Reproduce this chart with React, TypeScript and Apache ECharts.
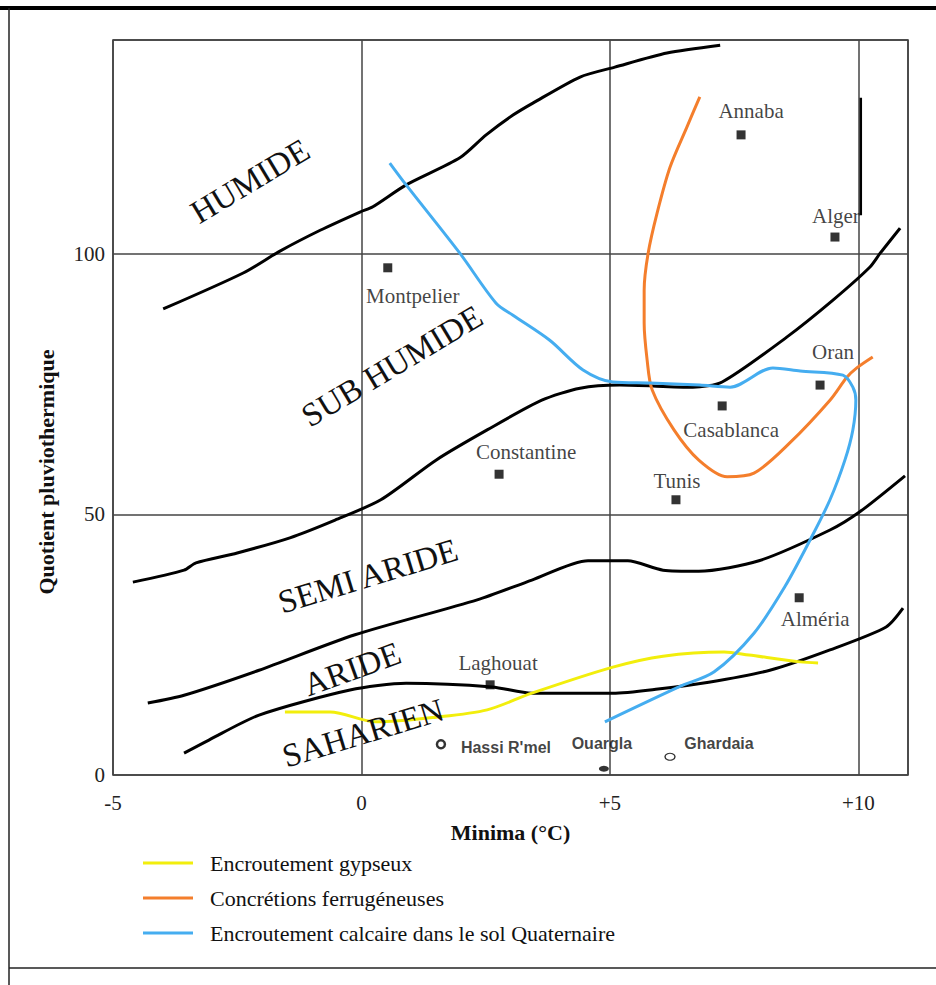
import React, { useEffect, useRef } from 'react';
import * as echarts from 'echarts';

// Bioclimatic limits (Minima °C, Quotient pluviothermique)
const limitHumide: number[][] = [
  [-3.99, 89.4], [-2.38, 96.3], [-1.64, 100.5], [-0.83, 104.5], [-0.03, 108.0], [0.23, 109.0],
  [0.9, 113.2], [1.98, 118.4], [2.51, 122.8], [3.05, 126.6], [3.45, 128.9], [4.4, 133.9],
  [5.1, 135.8], [6.15, 138.5], [7.22, 140.0],
];
const limitSubHumide: number[][] = [
  [-4.6, 37.0], [-3.57, 39.3], [-3.33, 40.7], [-2.5, 42.6], [-1.44, 45.5], [-0.53, 48.9],
  [0.39, 52.8], [1.5, 60.4], [2.53, 66.2], [3.63, 71.9], [4.4, 74.2], [5.2, 74.8],
  [6.67, 74.4], [7.26, 75.4], [8.56, 84.0], [9.49, 91.1], [10.23, 97.4], [10.44, 100.1], [10.84, 104.9],
];
const limitSemiAride: number[][] = [
  [-4.3, 13.8], [-3.57, 15.3], [-2.06, 20.1], [-0.13, 26.9], [2.33, 33.6], [3.43, 37.4],
  [4.56, 41.1], [5.36, 41.1], [6.07, 39.3], [6.79, 39.1], [8.0, 41.1], [9.43, 47.0],
  [10.03, 50.5], [10.94, 57.4],
];
const limitAride: number[][] = [
  [-3.57, 4.2], [-3.07, 6.7], [-2.06, 11.5], [-0.23, 16.3], [0.9, 17.6], [2.63, 16.9],
  [3.43, 15.7], [5.06, 15.7], [5.97, 16.5], [6.99, 17.8], [8.22, 20.1], [9.43, 24.0],
  [10.56, 28.4], [10.9, 32.0],
];
const strayMark: number[][] = [[10.05, 129.9], [10.05, 107.4]];

// Crusts / concretions
const gypseux: number[][] = [
  [-1.54, 12.1], [-0.63, 12.1], [0.29, 10.2], [1.5, 11.1], [2.53, 12.5], [3.43, 15.7],
  [5.06, 20.7], [6.07, 22.8], [7.3, 23.6], [7.8, 23.0], [8.83, 21.7], [9.19, 21.5],
];
const ferrugineuses: number[][] = [
  [6.81, 130.1], [6.55, 124.3], [6.21, 116.6], [5.95, 107.8], [5.77, 100.1], [5.69, 93.0],
  [5.69, 86.7], [5.75, 79.6], [5.85, 73.9], [6.29, 66.2], [6.79, 60.4], [7.36, 57.2],
  [7.9, 57.9], [8.62, 63.7], [9.43, 71.9], [9.77, 76.3], [9.97, 78.1], [10.29, 80.2],
];
const calcaire: number[][] = [
  [0.57, 117.4], [0.9, 113.2], [1.98, 100.1], [2.71, 90.5], [3.05, 88.2], [3.79, 83.4],
  [4.46, 77.7], [5.06, 75.4], [5.81, 75.2], [6.81, 74.8], [7.42, 74.4], [8.28, 78.1],
  [8.83, 77.5], [9.69, 76.7], [9.89, 74.4], [9.95, 71.9], [9.89, 66.2], [9.73, 60.4],
  [9.43, 52.8], [9.03, 45.1], [8.52, 36.1], [7.9, 27.2], [7.1, 19.8], [6.39, 16.9], [4.9, 10.2],
];

// Stations
const cityNames = ['Annaba', 'Alger', 'Montpelier', 'Oran', 'Casablanca', 'Constantine', 'Tunis', 'Alméria', 'Laghouat', "Hassi R'mel", 'Ouargla', 'Ghardaia'];
const cityX = [7.64, 9.53, 0.53, 9.23, 7.26, 2.77, 6.33, 8.81, 2.59, 1.6, 4.88, 6.21];
const cityY = [122.8, 103.2, 97.3, 74.8, 70.8, 57.7, 52.8, 34.0, 17.3, 5.9, 1.2, 3.5];

const xTicks = ['-5', '0', '+5', '+10'];
const yTicks = ['0', '50', '100'];

const zoneNames = ['HUMIDE', 'SUB HUMIDE', 'SEMI ARIDE', 'ARIDE', 'SAHARIEN'];

const legendNames = ['Encroutement gypseux', 'Concrétions ferrugéneuses', 'Encroutement calcaire dans le sol Quaternaire'];

const SERIF = '"Liberation Serif", "Times New Roman", serif';
const SANS = '"Liberation Sans", Arial, sans-serif';

// label offsets (px) relative to marker centre
const labelOffsets: Record<string, number[]> = {
  Annaba: [10, -24], Alger: [1, -21], Montpelier: [25, 28], Oran: [13, -33], Casablanca: [9, 24],
  Constantine: [27, -22], Tunis: [1, -19], 'Alméria': [16, 21], Laghouat: [8, -22],
  "Hassi R'mel": [65, 3], Ouargla: [-2, -25], Ghardaia: [49, -13],
};
const saharanStations = ["Hassi R'mel", 'Ouargla', 'Ghardaia'];

const zoneLayout = [
  { x: 250, y: 181, rot: 31 },
  { x: 392, y: 366, rot: 31 },
  { x: 368, y: 576, rot: 17 },
  { x: 352, y: 669, rot: 20 },
  { x: 363, y: 733, rot: 17 },
];

function markerStyle(name: string) {
  if (name === "Hassi R'mel") return { symbol: 'circle', symbolSize: 8, itemStyle: { color: '#fff', borderColor: '#000', borderWidth: 2.5 } };
  if (name === 'Ouargla') return { symbol: 'circle', symbolSize: [10, 6], itemStyle: { color: '#000' } };
  if (name === 'Ghardaia') return { symbol: 'circle', symbolSize: [10, 7], itemStyle: { color: '#fff', borderColor: '#000', borderWidth: 1.2 } };
  return { symbol: 'rect', symbolSize: 9, itemStyle: { color: '#000' } };
}

function buildOption(): any {
  const blackLine = (data: number[][], width = 3) => ({
    type: 'line', data, symbol: 'none', smooth: 0.25, silent: true, z: 2,
    lineStyle: { color: '#000', width }, itemStyle: { color: '#000' },
  });
  const colorLine = (name: string, data: number[][], color: string) => ({
    type: 'line', name, data, symbol: 'none', smooth: 0.3, silent: true, z: 3,
    lineStyle: { color, width: 3 }, itemStyle: { color },
  });

  const cityData = cityNames.map((n, i) => {
    const sahara = saharanStations.includes(n);
    return {
      name: n,
      value: [cityX[i], cityY[i]],
      ...markerStyle(n),
      label: {
        show: true, position: 'inside', formatter: n, offset: labelOffsets[n],
        fontFamily: sahara ? SANS : SERIF, fontWeight: sahara ? 'bold' : 'normal',
        fontSize: sahara ? 16 : 21, color: '#111',
      },
    };
  });

  const graphics: any[] = [
    { type: 'line', shape: { x1: 0, y1: 8, x2: 936, y2: 8 }, style: { stroke: '#000', lineWidth: 4 }, silent: true },
    { type: 'line', shape: { x1: 9, y1: 8, x2: 9, y2: 985 }, style: { stroke: '#222', lineWidth: 1.5 }, silent: true },
    { type: 'line', shape: { x1: 9, y1: 968, x2: 936, y2: 968 }, style: { stroke: '#222', lineWidth: 1.5 }, silent: true },
    {
      type: 'text', x: 46, y: 472, rotation: Math.PI / 2, silent: true,
      style: { text: 'Quotient pluviothermique', fontFamily: SERIF, fontWeight: 'bold', fontSize: 22, fill: '#111', align: 'center', verticalAlign: 'middle' },
    },
  ];
  zoneNames.forEach((z, i) => {
    const l = zoneLayout[i];
    graphics.push({
      type: 'text', x: l.x, y: l.y, rotation: (l.rot * Math.PI) / 180, silent: true, z: 10,
      style: { text: z, fontFamily: SERIF, fontSize: 33, fill: '#111', align: 'center', verticalAlign: 'middle' },
    });
  });

  return {
    animation: false,
    backgroundColor: '#fff',
    grid: { left: 113, top: 40, width: 795, height: 735, show: true, borderColor: '#333', borderWidth: 1.5, containLabel: false },
    xAxis: {
      type: 'value', min: -5, max: 11, interval: 5,
      name: 'Minima (°C)', nameLocation: 'middle', nameGap: 46,
      nameTextStyle: { fontFamily: SERIF, fontWeight: 'bold', fontSize: 22, color: '#111' },
      axisLine: { show: false }, axisTick: { show: false },
      axisLabel: {
        fontFamily: SERIF, fontSize: 21, color: '#222', margin: 17,
        formatter: (v: number) => { const i = [-5, 0, 5, 10].indexOf(v); return i >= 0 ? xTicks[i] : ''; },
      },
      splitLine: { show: true, lineStyle: { color: '#444', width: 1.5 } },
    },
    yAxis: {
      type: 'value', min: 0, max: 141, interval: 50,
      axisLine: { show: false }, axisTick: { show: false },
      axisLabel: {
        fontFamily: SERIF, fontSize: 21, color: '#222', margin: 8,
        formatter: (v: number) => { const i = [0, 50, 100].indexOf(v); return i >= 0 ? yTicks[i] : ''; },
      },
      splitLine: { show: true, lineStyle: { color: '#444', width: 1.5 } },
    },
    legend: {
      orient: 'vertical', left: 138, top: 846, itemWidth: 50, itemHeight: 3, itemGap: 11,
      icon: 'rect', selectedMode: false,
      textStyle: { fontFamily: SERIF, fontSize: 22, color: '#111', lineHeight: 24, padding: [0, 0, 0, 12] },
      data: legendNames,
    },
    graphic: graphics,
    series: [
      blackLine(limitHumide),
      blackLine(limitSubHumide),
      blackLine(limitSemiAride),
      blackLine(limitAride),
      { ...blackLine(strayMark, 2.5), smooth: false },
      colorLine(legendNames[0], gypseux, '#f2ee0c'),
      colorLine(legendNames[1], ferrugineuses, '#f47e2c'),
      colorLine(legendNames[2], calcaire, '#45adf0'),
      { type: 'scatter', data: cityData, z: 5, silent: true },
    ],
  };
}

export default function App() {
  const ref = useRef<HTMLDivElement>(null);
  useEffect(() => {
    const chart = echarts.init(ref.current as HTMLDivElement, null, { renderer: 'svg' });
    chart.setOption(buildOption());
    return () => chart.dispose();
  }, []);
  return <div ref={ref} style={{ position: 'absolute', left: 0, top: 0, width: 936, height: 985, background: '#fff' }} />;
}
